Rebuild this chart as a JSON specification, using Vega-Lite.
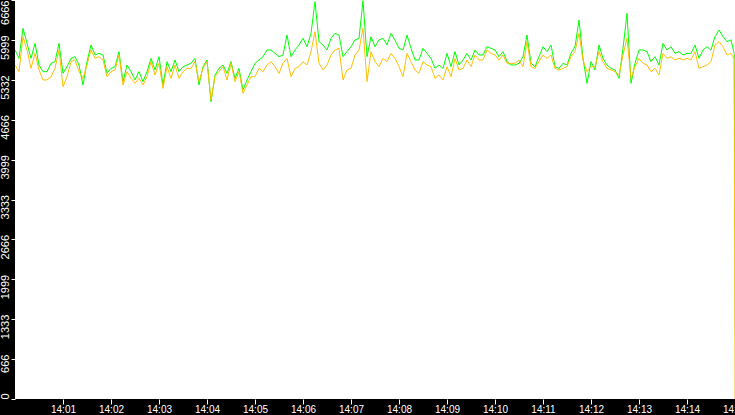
{
  "$schema": "https://vega.github.io/schema/vega-lite/v6.json",
  "width": 720,
  "height": 399,
  "autosize": {"type": "none"},
  "padding": {"left": 15, "top": 0, "right": 0, "bottom": 16},
  "background": "black",
  "view": {"fill": "white", "stroke": null},
  "data": {
    "values": [
      {"t": 0, "g": 5831, "o": 5580}, {"t": 5, "g": 5691, "o": 5469}, {"t": 10, "g": 6193, "o": 6053},
      {"t": 15, "g": 5942, "o": 5831}, {"t": 20, "g": 5691, "o": 5524}, {"t": 25, "g": 5942, "o": 5775},
      {"t": 30, "g": 5580, "o": 5497}, {"t": 35, "g": 5469, "o": 5330}, {"t": 40, "g": 5469, "o": 5330},
      {"t": 45, "g": 5608, "o": 5385}, {"t": 50, "g": 5636, "o": 5524}, {"t": 55, "g": 5942, "o": 5831},
      {"t": 60, "g": 5441, "o": 5218}, {"t": 65, "g": 5552, "o": 5385}, {"t": 70, "g": 5691, "o": 5636},
      {"t": 75, "g": 5719, "o": 5664}, {"t": 80, "g": 5580, "o": 5469}, {"t": 85, "g": 5246, "o": 5357},
      {"t": 90, "g": 5636, "o": 5580}, {"t": 95, "g": 5914, "o": 5831}, {"t": 100, "g": 5747, "o": 5691},
      {"t": 105, "g": 5775, "o": 5719}, {"t": 110, "g": 5747, "o": 5664}, {"t": 115, "g": 5441, "o": 5385},
      {"t": 120, "g": 5524, "o": 5469}, {"t": 125, "g": 5552, "o": 5497}, {"t": 130, "g": 5803, "o": 5747},
      {"t": 135, "g": 5302, "o": 5246}, {"t": 140, "g": 5580, "o": 5469}, {"t": 145, "g": 5469, "o": 5357},
      {"t": 150, "g": 5330, "o": 5274}, {"t": 155, "g": 5469, "o": 5357}, {"t": 160, "g": 5302, "o": 5246},
      {"t": 165, "g": 5469, "o": 5385}, {"t": 170, "g": 5691, "o": 5636}, {"t": 175, "g": 5497, "o": 5413},
      {"t": 180, "g": 5719, "o": 5608}, {"t": 185, "g": 5246, "o": 5190}, {"t": 190, "g": 5636, "o": 5552},
      {"t": 195, "g": 5469, "o": 5357}, {"t": 200, "g": 5664, "o": 5580}, {"t": 205, "g": 5469, "o": 5357},
      {"t": 210, "g": 5552, "o": 5469}, {"t": 215, "g": 5580, "o": 5524}, {"t": 220, "g": 5608, "o": 5524},
      {"t": 225, "g": 5691, "o": 5636}, {"t": 230, "g": 5246, "o": 5302}, {"t": 235, "g": 5552, "o": 5524},
      {"t": 240, "g": 5664, "o": 5636}, {"t": 245, "g": 4967, "o": 4995}, {"t": 250, "g": 5413, "o": 5385},
      {"t": 255, "g": 5524, "o": 5469}, {"t": 260, "g": 5580, "o": 5552}, {"t": 265, "g": 5441, "o": 5330},
      {"t": 270, "g": 5636, "o": 5608}, {"t": 275, "g": 5357, "o": 5302}, {"t": 280, "g": 5524, "o": 5469},
      {"t": 285, "g": 5162, "o": 5107}, {"t": 290, "g": 5330, "o": 5246}, {"t": 295, "g": 5469, "o": 5385},
      {"t": 300, "g": 5608, "o": 5385}, {"t": 305, "g": 5664, "o": 5524}, {"t": 310, "g": 5719, "o": 5469},
      {"t": 315, "g": 5831, "o": 5580}, {"t": 320, "g": 5831, "o": 5636}, {"t": 325, "g": 5775, "o": 5552},
      {"t": 330, "g": 5719, "o": 5441}, {"t": 335, "g": 5747, "o": 5608}, {"t": 340, "g": 6081, "o": 5691},
      {"t": 345, "g": 5719, "o": 5385}, {"t": 350, "g": 5831, "o": 5524}, {"t": 355, "g": 5914, "o": 5552},
      {"t": 360, "g": 6026, "o": 5636}, {"t": 365, "g": 5886, "o": 5580}, {"t": 370, "g": 6109, "o": 5803},
      {"t": 375, "g": 6638, "o": 6137}, {"t": 380, "g": 5970, "o": 5608}, {"t": 385, "g": 5914, "o": 5497},
      {"t": 390, "g": 5831, "o": 5580}, {"t": 395, "g": 6026, "o": 5747}, {"t": 400, "g": 6109, "o": 5831},
      {"t": 405, "g": 6081, "o": 5859}, {"t": 410, "g": 5719, "o": 5330}, {"t": 415, "g": 5803, "o": 5497},
      {"t": 420, "g": 5886, "o": 5524}, {"t": 425, "g": 5998, "o": 5747}, {"t": 430, "g": 6026, "o": 5831},
      {"t": 435, "g": 6655, "o": 6193}, {"t": 440, "g": 5719, "o": 5302}, {"t": 445, "g": 6053, "o": 5803},
      {"t": 450, "g": 5886, "o": 5636}, {"t": 455, "g": 5998, "o": 5552}, {"t": 460, "g": 6026, "o": 5691},
      {"t": 465, "g": 5914, "o": 5636}, {"t": 470, "g": 6109, "o": 5775}, {"t": 475, "g": 5998, "o": 5691},
      {"t": 480, "g": 5859, "o": 5552}, {"t": 485, "g": 5831, "o": 5385}, {"t": 490, "g": 6081, "o": 5775},
      {"t": 495, "g": 5859, "o": 5636}, {"t": 500, "g": 5664, "o": 5497}, {"t": 505, "g": 5664, "o": 5441},
      {"t": 510, "g": 5859, "o": 5636}, {"t": 515, "g": 5775, "o": 5580}, {"t": 520, "g": 5691, "o": 5552},
      {"t": 525, "g": 5524, "o": 5357}, {"t": 530, "g": 5580, "o": 5413}, {"t": 535, "g": 5524, "o": 5330},
      {"t": 540, "g": 5775, "o": 5552}, {"t": 545, "g": 5552, "o": 5385}, {"t": 550, "g": 5803, "o": 5691},
      {"t": 555, "g": 5580, "o": 5497}, {"t": 560, "g": 5664, "o": 5524}, {"t": 565, "g": 5775, "o": 5664},
      {"t": 570, "g": 5664, "o": 5552}, {"t": 575, "g": 5831, "o": 5747}, {"t": 580, "g": 5747, "o": 5664},
      {"t": 585, "g": 5747, "o": 5664}, {"t": 590, "g": 5886, "o": 5831}, {"t": 595, "g": 5859, "o": 5775},
      {"t": 600, "g": 5831, "o": 5747}, {"t": 605, "g": 5719, "o": 5664}, {"t": 610, "g": 5803, "o": 5747},
      {"t": 615, "g": 5636, "o": 5608}, {"t": 620, "g": 5580, "o": 5608}, {"t": 625, "g": 5580, "o": 5608},
      {"t": 630, "g": 5608, "o": 5664}, {"t": 635, "g": 5719, "o": 5552}, {"t": 640, "g": 6081, "o": 5970},
      {"t": 645, "g": 5608, "o": 5552}, {"t": 650, "g": 5552, "o": 5524}, {"t": 655, "g": 5719, "o": 5636},
      {"t": 660, "g": 5886, "o": 5747}, {"t": 665, "g": 5803, "o": 5691}, {"t": 670, "g": 5914, "o": 5747},
      {"t": 675, "g": 5552, "o": 5524}, {"t": 680, "g": 5524, "o": 5497}, {"t": 685, "g": 5608, "o": 5524},
      {"t": 690, "g": 5580, "o": 5552}, {"t": 695, "g": 5775, "o": 5719}, {"t": 700, "g": 5886, "o": 5803},
      {"t": 705, "g": 6332, "o": 6109}, {"t": 710, "g": 5691, "o": 5664}, {"t": 715, "g": 5274, "o": 5469},
      {"t": 720, "g": 5636, "o": 5552}, {"t": 725, "g": 5497, "o": 5552}, {"t": 730, "g": 5914, "o": 5803},
      {"t": 735, "g": 5691, "o": 5636}, {"t": 740, "g": 5580, "o": 5524}, {"t": 745, "g": 5524, "o": 5497},
      {"t": 750, "g": 5497, "o": 5469}, {"t": 755, "g": 5357, "o": 5413}, {"t": 760, "g": 5859, "o": 5747},
      {"t": 765, "g": 6443, "o": 6026}, {"t": 770, "g": 5274, "o": 5357}, {"t": 775, "g": 5608, "o": 5552},
      {"t": 780, "g": 5831, "o": 5691}, {"t": 785, "g": 5831, "o": 5608}, {"t": 790, "g": 5803, "o": 5580},
      {"t": 795, "g": 5636, "o": 5469}, {"t": 800, "g": 5719, "o": 5524}, {"t": 805, "g": 5580, "o": 5413},
      {"t": 810, "g": 5942, "o": 5775}, {"t": 815, "g": 5831, "o": 5691}, {"t": 820, "g": 5886, "o": 5719},
      {"t": 825, "g": 5775, "o": 5664}, {"t": 830, "g": 5803, "o": 5691}, {"t": 835, "g": 5747, "o": 5664},
      {"t": 840, "g": 5775, "o": 5691}, {"t": 845, "g": 5775, "o": 5664}, {"t": 850, "g": 5914, "o": 5803},
      {"t": 855, "g": 5691, "o": 5524}, {"t": 860, "g": 5831, "o": 5552}, {"t": 865, "g": 5886, "o": 5580},
      {"t": 870, "g": 5831, "o": 5636}, {"t": 875, "g": 6053, "o": 5914}, {"t": 880, "g": 6165, "o": 5970},
      {"t": 885, "g": 6053, "o": 5886}, {"t": 890, "g": 5970, "o": 5747}, {"t": 895, "g": 5998, "o": 5775},
      {"t": 899, "g": 5775, "o": 5680}, {"t": 900, "g": 2850, "o": 0}
    ]
  },
  "transform": [{"fold": ["g", "o"], "as": ["series", "value"]}],
  "mark": {"type": "line", "strokeWidth": 1, "clip": true},
  "encoding": {
    "x": {
      "field": "t",
      "type": "quantitative",
      "scale": {"domain": [0, 900], "nice": false, "zero": false},
      "axis": {
        "values": [60, 120, 180, 240, 300, 360, 420, 480, 540, 600, 660, 720, 780, 840, 900],
        "labelExpr": "'14:' + (datum.value < 600 ? '0' : '') + (datum.value / 60)",
        "title": null,
        "grid": false,
        "domain": false,
        "tickColor": "white",
        "tickSize": 5,
        "labelColor": "white",
        "labelFont": "Liberation Sans",
        "labelFontSize": 10,
        "labelPadding": 0,
        "labelFlush": false,
        "labelOverlap": false,
        "labelBound": false
      }
    },
    "y": {
      "field": "value",
      "type": "quantitative",
      "scale": {"domain": [0, 6666], "nice": false},
      "axis": {
        "values": [0, 666.6, 1333.2, 1999.8, 2666.4, 3333, 3999.6, 4666.2, 5332.8, 5999.4, 6666],
        "labelExpr": "floor(datum.value)",
        "title": null,
        "grid": false,
        "domain": false,
        "tickColor": "white",
        "tickSize": 4,
        "labelColor": "white",
        "labelFont": "Liberation Sans",
        "labelFontSize": 11,
        "labelAngle": 270,
        "labelAlign": {"condition": {"test": "datum.value == 0", "value": "left"}, "value": "right"},
        "labelBaseline": "bottom",
        "labelOffset": {"condition": {"test": "datum.value == 0 || datum.value > 6600", "value": 0}, "value": -5},
        "labelPadding": 1,
        "labelFlush": false,
        "labelOverlap": false,
        "labelBound": false
      }
    },
    "color": {
      "field": "series",
      "type": "nominal",
      "scale": {"domain": ["g", "o"], "range": ["#00ff00", "#ffbf00"]},
      "legend": null
    }
  }
}
